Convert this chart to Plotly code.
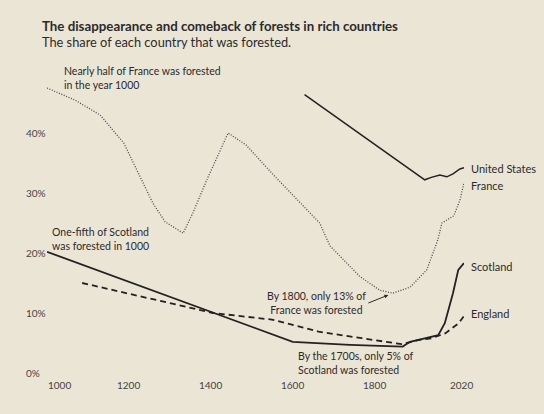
import plotly.graph_objects as go

# ---- data ----
france_years = [1000, 1068, 1130, 1188, 1259, 1289, 1333, 1357, 1391, 1443, 1487, 1550,
                1667, 1692, 1765, 1814, 1846, 1888, 1929, 1956, 1966, 1995, 2010, 2020]
france_vals = [47.5, 45.5, 43.0, 38.3, 28.3, 25.2, 23.3, 26.7, 32.2, 40.0, 38.0, 33.3,
               25.0, 21.2, 16.1, 13.8, 13.3, 14.3, 17.2, 22.2, 25.0, 26.2, 28.8, 31.7]

us_years = [1630, 1924, 1940, 1961, 1978, 1993, 2010, 2020]
us_vals = [46.4, 32.2, 32.6, 33.0, 32.7, 33.2, 34.0, 34.2]

scotland_years = [1000, 1601, 1741, 1870, 1888, 1941, 1957, 1973, 1993, 2006, 2015, 2020]
scotland_vals = [20.2, 5.2, 4.7, 4.4, 5.2, 6.0, 6.3, 8.3, 13.3, 17.2, 17.8, 18.3]

england_years = [1086, 1406, 1550, 1664, 1770, 1868, 1909, 1941, 1974, 2007, 2020]
england_vals = [15.0, 10.0, 8.9, 6.9, 5.8, 4.8, 5.5, 5.8, 6.6, 8.3, 9.5]

x_ticks = [1000, 1200, 1400, 1600, 1800, 2020]
y_ticks = [0, 10, 20, 30, 40]

title = "The disappearance and comeback of forests in rich countries"
subtitle = "The share of each country that was forested."

BG = "#EBE5D5"
INK = "#2b2b2b"
FONT = "Lato"

fig = go.Figure()
fig.add_trace(go.Scatter(x=france_years, y=france_vals, mode="lines",
                         line=dict(color="#4a4a4a", width=1.3, dash="1px,1.6px"), name="France"))
fig.add_trace(go.Scatter(x=us_years, y=us_vals, mode="lines",
                         line=dict(color="#222222", width=1.5), name="United States"))
fig.add_trace(go.Scatter(x=scotland_years, y=scotland_vals, mode="lines",
                         line=dict(color="#222222", width=1.8), name="Scotland"))
fig.add_trace(go.Scatter(x=england_years, y=england_vals, mode="lines",
                         line=dict(color="#222222", width=1.8, dash="6px,4px"), name="England"))

ann = []
# x tick labels
xshifts = {1000: 12, 2020: -3}
for t in x_ticks:
    ann.append(dict(x=t, y=0, xref="x", yref="y", text=str(t), showarrow=False,
                    yshift=-12, xshift=xshifts.get(t, 0),
                    font=dict(size=10, color="#444", family=FONT)))
# y tick labels (left aligned)
for v in y_ticks:
    ann.append(dict(x=0, xref="paper", xanchor="left", xshift=-23, y=v, yref="y",
                    text=f"{v}%", showarrow=False,
                    font=dict(size=10, color="#444", family=FONT)))

# series labels
labels = [("United States", us_vals[-1], -1), ("France", france_vals[-1], -3),
          ("Scotland", scotland_vals[-1], -3), ("England", england_vals[-1], 3)]
for name, v, ys in labels:
    ann.append(dict(x=2020, y=v, xref="x", yref="y", text=name, showarrow=False,
                    xanchor="left", xshift=5, yshift=ys,
                    font=dict(size=11, color=INK, family=FONT)))

note_font = dict(size=10.5, color=INK, family=FONT)
ann.append(dict(x=1037, y=49.2, xref="x", yref="y", xanchor="left", yanchor="middle",
                text="Nearly half of France was forested<br>in the year 1000", align="left",
                showarrow=False, font=note_font))
ann.append(dict(x=1008, y=22.3, xref="x", yref="y", xanchor="left", yanchor="middle",
                text="One-fifth of Scotland<br>was forested in 1000", align="left",
                showarrow=False, font=note_font))
ann.append(dict(x=1835, y=13.0, xref="x", yref="y", ax=-20, ay=8,
                text="By 1800, only 13% of<br>France was forested", align="center",
                showarrow=True, arrowhead=2, arrowsize=0.8, arrowwidth=1, arrowcolor=INK,
                xanchor="right", yanchor="middle", font=note_font))
ann.append(dict(x=1610, y=4.1, xref="x", yref="y", xanchor="left", yanchor="top",
                text="By the 1700s, only 5% of<br>Scotland was forested", align="left",
                showarrow=False, font=note_font))

# titles (positions given in pixels, converted to paper coords)
ann.append(dict(x=40, y=26, text=f"<b>{title}</b>",
                showarrow=False, font=dict(size=13.3, color=INK, family=FONT)))
ann.append(dict(x=40, y=42, text=subtitle,
                showarrow=False, font=dict(size=12.8, color=INK, family=FONT)))
for a in ann[-2:]:
    px, py = a["x"], a["y"]
    a["xref"] = "paper"
    a["yref"] = "paper"
    a["x"] = (px - 47) / (544 - 47 - 80)
    a["y"] = (414 - 41 - py) / (414 - 73 - 41)
    a["xanchor"] = "left"
    a["yanchor"] = "middle"

fig.update_layout(
    width=544, height=414,
    paper_bgcolor=BG, plot_bgcolor=BG,
    margin=dict(l=47, r=80, t=73, b=41),
    showlegend=False,
    xaxis=dict(range=[1000, 2020], showgrid=False, zeroline=False, showline=False,
               showticklabels=False, ticks=""),
    yaxis=dict(range=[0, 50], showgrid=False, zeroline=False, showline=False,
               showticklabels=False, ticks=""),
    annotations=ann,
)

fig.write_html("out.html", config={"displayModeBar": False},
               post_script="document.body.style.margin='0px';")
